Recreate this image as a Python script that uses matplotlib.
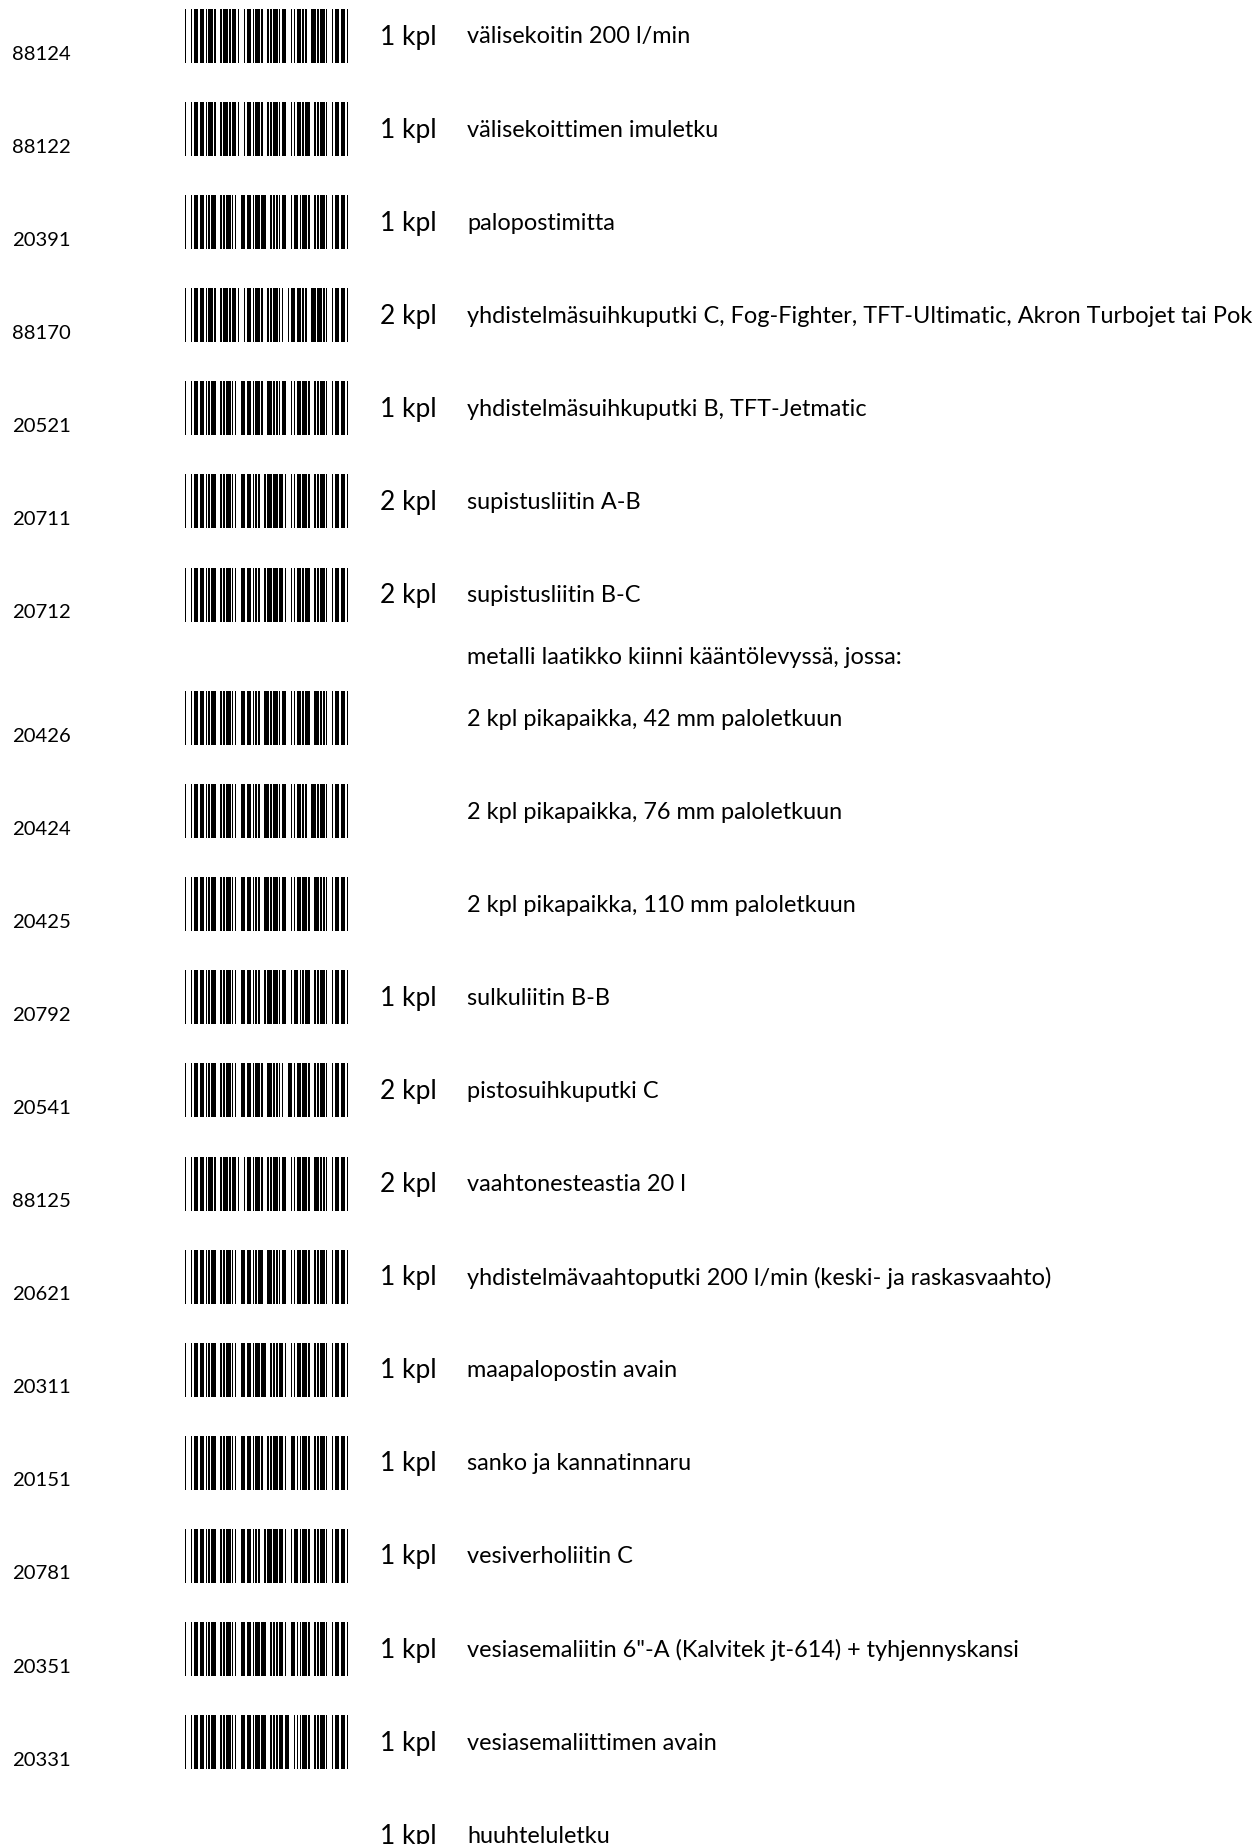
import matplotlib
matplotlib.use("Agg")
import matplotlib.pyplot as plt

# item codes (None = line without barcode)
codes = ["88124", "88122", "20391", "88170", "20521", "20711", "20712", None,
         "20426", "20424", "20425", "20792", "20541", "88125", "20621",
         "20311", "20151", "20781", "20351", "20331", None]
quantities = ["1 kpl", "1 kpl", "1 kpl", "2 kpl", "1 kpl", "2 kpl", "2 kpl", "",
              "", "", "", "1 kpl", "2 kpl", "2 kpl", "1 kpl",
              "1 kpl", "1 kpl", "1 kpl", "1 kpl", "1 kpl", "1 kpl"]
descriptions = [
    "välisekoitin 200 l/min",
    "välisekoittimen imuletku",
    "palopostimitta",
    "yhdistelmäsuihkuputki C, Fog-Fighter, TFT-Ultimatic, Akron Turbojet tai Pok",
    "yhdistelmäsuihkuputki B, TFT-Jetmatic",
    "supistusliitin A-B",
    "supistusliitin B-C",
    "metalli laatikko kiinni kääntölevyssä, jossa:",
    "2 kpl pikapaikka, 42 mm paloletkuun",
    "2 kpl pikapaikka, 76 mm paloletkuun",
    "2 kpl pikapaikka, 110 mm paloletkuun",
    "sulkuliitin B-B",
    "pistosuihkuputki C",
    "vaahtonesteastia 20 l",
    "yhdistelmävaahtoputki 200 l/min (keski- ja raskasvaahto)",
    "maapalopostin avain",
    "sanko ja kannatinnaru",
    "vesiverholiitin C",
    "vesiasemaliitin 6\"-A (Kalvitek jt-614) + tyhjennyskansi",
    "vesiasemaliittimen avain",
    "huuhteluletku",
]

# Code 39 patterns (1 = wide element), bar/space alternating starting with bar
CODE39 = {
    "0": "000110100", "1": "100100001", "2": "001100001", "3": "101100000",
    "4": "000110001", "5": "100110000", "6": "001110000", "7": "000100101",
    "8": "100100100", "9": "001100100", "*": "010010100",
}


def code39_bars(text, wide=3.0):
    # returns list of (start, width) in module units plus total width
    bars = []
    x = 0.0
    for ch in "*" + text + "*":
        for i, w in enumerate(CODE39[ch]):
            width = wide if w == "1" else 1.0
            if i % 2 == 0:
                bars.append((x, width))
            x += width
        x += 1.0  # inter-character gap
    return bars, x - 1.0


W, H = 1259, 1844
fig = plt.figure(figsize=(W / 100, H / 100), dpi=100)
ax = fig.add_axes([0, 0, 1, 1])
ax.set_xlim(0, W)
ax.set_ylim(H, 0)
ax.axis("off")

font = ["Lato", "DejaVu Sans"]
pitch = 93.1
bc_left, bc_right = 185, 348
bc_height = 54

for i, (code, qty, desc) in enumerate(zip(codes, quantities, descriptions)):
    if i < 7:
        y = 37 + i * pitch
    elif i == 7:
        # heading line without barcode
        ax.text(467, 657, desc, fontsize=16.9, family=font, va="center", ha="left")
        continue
    else:
        y = 719 + (i - 8) * pitch
    if code is not None:
        bars, total = code39_bars(code)
        scale = (bc_right - bc_left) / total
        top = y - 28
        ax.broken_barh([(bc_left + s * scale, w * scale) for s, w in bars],
                       (top, bc_height), facecolors="black", linewidth=0)
        ax.text(12, y + 17, code, fontsize=14.6, family=font, va="center", ha="left")
    if qty:
        ax.text(380, y, qty, fontsize=19, family=font, va="center", ha="left")
    ax.text(467, y, desc, fontsize=16.9, family=font, va="center", ha="left")

fig.savefig("out.png", dpi=100)
